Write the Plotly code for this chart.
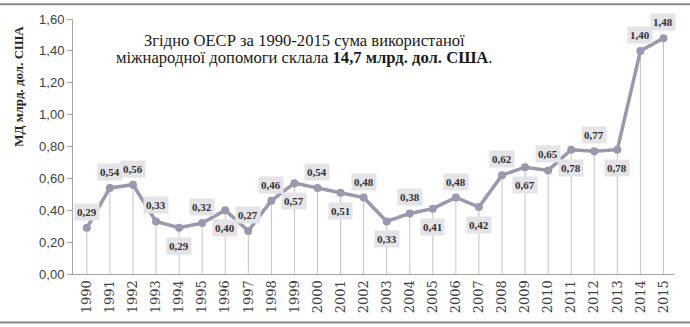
import plotly.graph_objects as go

years = list(range(1990, 2016))
values = [0.29, 0.54, 0.56, 0.33, 0.29, 0.32, 0.40, 0.27, 0.46, 0.57,
          0.54, 0.51, 0.48, 0.33, 0.38, 0.41, 0.48, 0.42, 0.62, 0.67,
          0.65, 0.78, 0.77, 0.78, 1.40, 1.48]
label_pos = ["a", "a", "a", "a", "b", "a", "b", "a", "a", "b",
             "a", "b", "a", "b", "a", "b", "a", "b", "a", "b",
             "a", "b", "a", "b", "a", "a"]
y_ticks = [0, 0.2, 0.4, 0.6, 0.8, 1.0, 1.2, 1.4, 1.6]
y_ticktext = ["0,00", "0,20", "0,40", "0,60", "0,80", "1,00", "1,20", "1,40", "1,60"]
title_line1 = "Згідно ОЕСР за 1990-2015 сума використаної"
title_line2 = "міжнародної допомоги склала <b>14,7 млрд. дол. США</b>."
y_title = "МД млрд. дол. США"

line_color = "#9a97ae"
serif = "Liberation Serif"

fig = go.Figure()

# drop lines
dx, dy = [], []
for x, v in zip(years, values):
    dx += [x, x, None]
    dy += [0, v, None]
fig.add_trace(go.Scatter(x=dx, y=dy, mode="lines",
                         line=dict(color="#c4c4c4", width=1),
                         hoverinfo="skip", showlegend=False))

fig.add_trace(go.Scatter(x=years, y=values, mode="lines+markers",
                         line=dict(color=line_color, width=3.5),
                         marker=dict(color=line_color, size=8),
                         showlegend=False))

for x, v, p in zip(years, values, label_pos):
    fig.add_annotation(x=x, y=v, text="<b>" + f"{v:.2f}".replace(".", ",") + "</b>",
                       showarrow=False, yshift=16 if p == "a" else -18,
                       bgcolor="#e3e3e8", borderpad=2,
                       font=dict(family=serif, size=11, color="#333333"))

fig.add_annotation(xref="paper", yref="paper", x=0.384, y=0.915,
                   xanchor="center", yanchor="middle",
                   text=title_line1, showarrow=False,
                   font=dict(family=serif, size=16.6, color="#1a1a1a"))
fig.add_annotation(xref="paper", yref="paper", x=0.384, y=0.849,
                   xanchor="center", yanchor="middle",
                   text=title_line2, showarrow=False,
                   font=dict(family=serif, size=16.6, color="#1a1a1a"))

fig.add_annotation(xref="paper", yref="paper", x=-0.091, y=0.735,
                   xanchor="center", yanchor="middle",
                   text="<b>" + y_title + "</b>", textangle=-90, showarrow=False,
                   font=dict(family=serif, size=13, color="#262626"))

# frame lines top and bottom
fig.add_shape(type="line", xref="paper", yref="paper", x0=-0.13, x1=1.03,
              y0=1.058, y1=1.058, line=dict(color="#8a8a8a", width=2))
fig.add_shape(type="line", xref="paper", yref="paper", x0=-0.13, x1=1.03,
              y0=-0.19, y1=-0.19, line=dict(color="#8a8a8a", width=2))

fig.update_layout(
    width=690, height=327,
    margin=dict(l=73, r=15, t=16, b=53),
    paper_bgcolor="white", plot_bgcolor="white",
    xaxis=dict(range=[1989.4, 2015.5], tickvals=years, ticktext=[str(y) for y in years],
               tickangle=-90, showline=True, linecolor="#a6a6a6", linewidth=1,
               showgrid=False, zeroline=False, ticks="",
               tickfont=dict(family="DejaVu Serif", size=13, color="#404040")),
    yaxis=dict(range=[0, 1.6], tickvals=y_ticks, ticktext=y_ticktext,
               showline=True, linecolor="#a6a6a6", linewidth=1, ticks="outside",
               ticklen=5, tickcolor="#a6a6a6", showgrid=False, zeroline=False,
               tickfont=dict(family="Liberation Sans", size=13, color="#404040")),
)

fig.write_html("out.html")
